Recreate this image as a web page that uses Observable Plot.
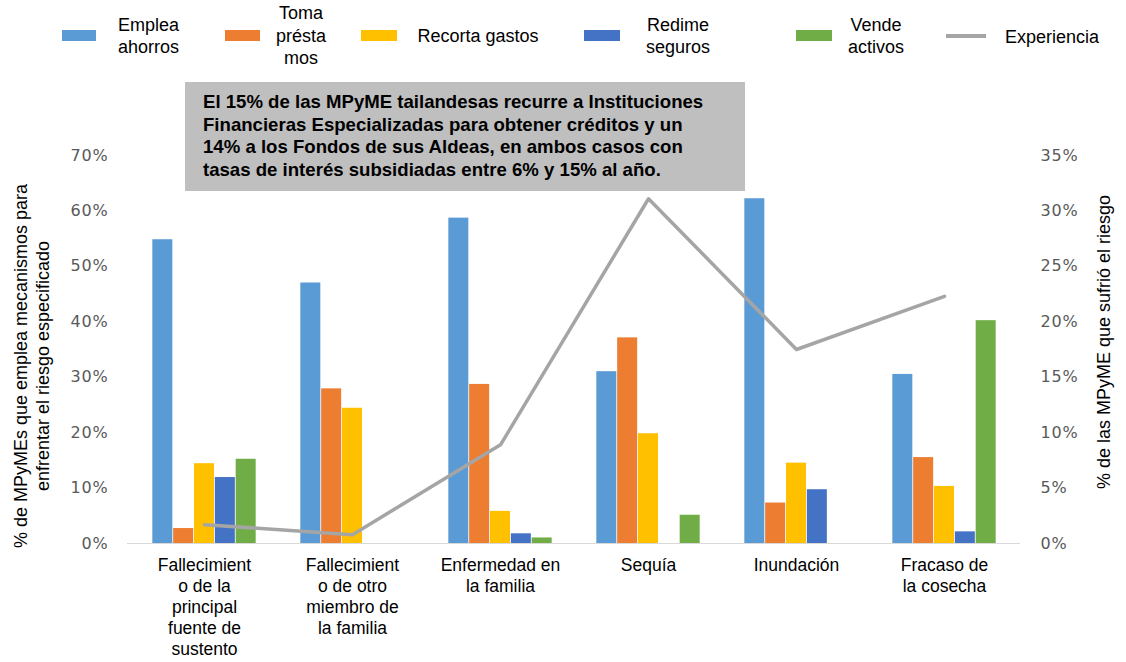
<!DOCTYPE html>
<html>
<head>
<meta charset="utf-8">
<script src="https://cdn.jsdelivr.net/npm/d3@7"></script>
<script src="https://cdn.jsdelivr.net/npm/@observablehq/plot@0.6"></script>
<style>
  body { margin: 0; background: #fff; font-family: "Liberation Sans", Arial, sans-serif; }
  #wrap { position: relative; width: 1126px; height: 662px; overflow: hidden; }
  #legend { position: relative; height: 80px; }
  .sw { position: absolute; height: 11px; }
  .lt { position: absolute; font-size: 18px; line-height: 22.5px; color: #000; text-align: center; }
  #note { position: absolute; left: 185px; top: 82px; width: 560px; height: 109px; background: #bfbfbf;
          box-sizing: border-box; padding: 9px 0 0 18px; font-weight: bold; font-size: 18.6px; line-height: 22.5px; color: #000; white-space: nowrap; }
  .ytitle { position: absolute; font-size: 18px; line-height: 22px; color: #000; white-space: nowrap; text-align: center;
            transform: translate(-50%, -50%) rotate(-90deg); }
  #chart svg g[aria-label="y-axis tick label"] text { letter-spacing: 0.8px; }
</style>
</head>
<body>
<div id="wrap">
  <div id="legend"></div>
  <div id="chart"></div>
  <div id="note">El 15% de las MPyME tailandesas recurre a Instituciones<br>Financieras Especializadas para obtener créditos y un<br>14% a los Fondos de sus Aldeas, en ambos casos con<br>tasas de interés subsidiadas entre 6% y 15% al año.</div>
  <div class="ytitle" style="left:32px; top:366px;">% de MPyMEs que emplea mecanismos para<br>enfrentar el riesgo especificado</div>
  <div class="ytitle" style="left:1104px; top:342px;">% de las MPyME que sufrió el riesgo</div>
</div>
<script>
// ---- data ----
const categories = [
  "Fallecimiento de la principal fuente de sustento",
  "Fallecimiento de otro miembro de la familia",
  "Enfermedad en la familia",
  "Sequía",
  "Inundación",
  "Fracaso de la cosecha"
];
const categoryLabels = [
  "Fallecimient\no de la\nprincipal\nfuente de\nsustento",
  "Fallecimient\no de otro\nmiembro de\nla familia",
  "Enfermedad en\nla familia",
  "Sequía",
  "Inundación",
  "Fracaso de\nla cosecha"
];
const seriesNames = ["Emplea ahorros", "Toma préstamos", "Recorta gastos", "Redime seguros", "Vende activos"];
const seriesColors = ["#5b9bd5", "#ed7d31", "#ffc000", "#4472c4", "#70ad47"];
const empleaAhorros  = [0.548, 0.470, 0.587, 0.310, 0.622, 0.305];
const tomaPrestamos  = [0.027, 0.279, 0.287, 0.371, 0.073, 0.155];
const recortaGastos  = [0.144, 0.244, 0.058, 0.198, 0.145, 0.103];
const redimeSeguros  = [0.119, 0.000, 0.0175, 0.000, 0.097, 0.021];
const vendeActivos   = [0.152, 0.000, 0.010, 0.051, 0.000, 0.402];
const experiencia    = [0.017, 0.008, 0.089, 0.311, 0.175, 0.223];
const leftTicks  = [0, 0.1, 0.2, 0.3, 0.4, 0.5, 0.6, 0.7];
const leftTickLabels  = ["0%", "10%", "20%", "30%", "40%", "50%", "60%", "70%"];
const rightTickLabels = ["0%", "5%", "10%", "15%", "20%", "25%", "30%", "35%"];

const seriesValues = [empleaAhorros, tomaPrestamos, recortaGastos, redimeSeguros, vendeActivos];

// ---- legend (HTML) ----
const legend = document.getElementById("legend");
const legendItems = [
  {sw: [62, 96], text: "Emplea<br>ahorros", tx: 111, tw: 75},
  {sw: [225, 260], text: "Toma<br>présta<br>mos", tx: 271, tw: 60},
  {sw: [361, 397], text: "Recorta gastos", tx: 412, tw: 132},
  {sw: [584, 620], text: "Redime<br>seguros", tx: 642, tw: 72},
  {sw: [796, 832], text: "Vende<br>activos", tx: 840, tw: 72}
];
legendItems.forEach((it, i) => {
  const s = document.createElement("div");
  s.className = "sw";
  s.style.left = it.sw[0] + "px"; s.style.width = (it.sw[1] - it.sw[0]) + "px";
  s.style.top = "30px"; s.style.background = seriesColors[i];
  legend.appendChild(s);
  const t = document.createElement("div");
  t.className = "lt"; t.innerHTML = it.text;
  t.style.left = it.tx + "px"; t.style.width = it.tw + "px";
  legend.appendChild(t);
});
legend.querySelectorAll(".lt").forEach(t => {
  const lines = t.innerHTML.split("<br>").length;
  t.style.top = (37 - lines * 22.5 / 2 - 1) + "px";
});
{
  const s = document.createElement("div");
  s.style.cssText = "position:absolute;left:946px;width:40px;top:34px;height:4px;background:#a5a5a5;";
  legend.appendChild(s);
  const t = document.createElement("div");
  t.className = "lt"; t.textContent = "Experiencia";
  t.style.left = "1005px"; t.style.top = "26px"; t.style.textAlign = "left";
  legend.appendChild(t);
}

// ---- chart ----
const W = 1126, H = 582;
const mL = 127, mR = 106, mT = 75, mB = 119;
const bw = (W - mL - mR) / categories.length;
const groupFrac = 0.70;
const barW = bw * groupFrac / seriesNames.length;

const barMarks = seriesNames.map((name, k) => {
  const rows = categories.map((c, i) => ({cat: c, value: seriesValues[k][i]}));
  const insetLeft = bw * (1 - groupFrac) / 2 + k * barW;
  const insetRight = bw - insetLeft - barW;
  return Plot.barY(rows, {x: "cat", y: "value", fill: seriesColors[k], insetLeft, insetRight});
});

const lineRows = categories.map((c, i) => ({cat: c, exp: experiencia[i]}));
const labelOf = new Map(categories.map((c, i) => [c, categoryLabels[i]]));

const chart = Plot.plot({
  width: W, height: H,
  marginLeft: mL, marginRight: mR, marginTop: mT, marginBottom: mB,
  style: {fontFamily: "'Liberation Sans', Arial, sans-serif", background: "transparent"},
  x: {type: "band", domain: categories, padding: 0, axis: null},
  y: {domain: [0, 0.7], axis: null},
  marks: [
    ...barMarks,
    Plot.ruleY([0], {stroke: "#d9d9d9", strokeWidth: 1}),
    Plot.lineY(lineRows, {x: "cat", y: d => d.exp * 2, stroke: "#a5a5a5", strokeWidth: 3.5}),
    Plot.axisY({anchor: "left", ticks: leftTicks, tickSize: 0, tickPadding: 19,
      tickFormat: d => leftTickLabels[leftTicks.indexOf(d)], label: null,
      fontSize: 16, fontFamily: "'DejaVu Sans', sans-serif", color: "#595959", fill: "#595959"}),
    Plot.axisY({anchor: "right", ticks: leftTicks, tickSize: 0, tickPadding: 20,
      tickFormat: d => rightTickLabels[leftTicks.indexOf(d)], label: null,
      fontSize: 16, fontFamily: "'DejaVu Sans', sans-serif", color: "#595959", fill: "#595959"}),
    Plot.axisX({tickSize: 0, tickPadding: 13, tickFormat: d => labelOf.get(d), label: null,
      fontSize: 17.5, lineHeight: 1.19, fill: "#000", color: "#000"})
  ]
});
document.getElementById("chart").appendChild(chart);
</script>
</body>
</html>
